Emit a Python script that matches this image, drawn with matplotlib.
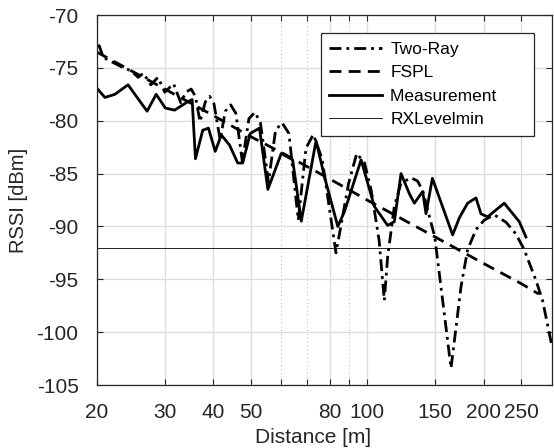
import matplotlib
matplotlib.use("Agg")
import matplotlib.pyplot as plt
import matplotlib.ticker as mticker

plt.rcParams['font.family'] = ['Liberation Sans', 'DejaVu Sans']
plt.rcParams['axes.unicode_minus'] = False

# Two-Ray model
tworay_d = [20.0, 20.3, 20.8, 21.8, 23.2, 24.6, 25.6, 26.4, 27.6, 28.8,
            30.0, 31.6, 33.0, 34.0, 35.1, 36.0, 37.0, 38.2, 39.2, 40.2,
            41.7, 43.0, 44.4, 45.8, 47.6, 49.5, 51.3, 53.0, 55.6, 58.0,
            60.3, 62.8, 66.4, 69.5, 72.6, 76.5, 83.1, 89.5, 94.0, 98.5,
            102.5, 107.4, 110.8, 113.0, 117.6, 122.4, 129.9, 135.0, 139.2, 149.6,
            156.8, 164.8, 174.9, 181.9, 191.2, 200.8, 213.2, 228.6, 242.4, 254.8,
            273.2, 284.2, 300.0]
tworay_rssi = [-73.0, -72.9, -74.0, -74.4, -74.9, -75.3, -75.9, -75.5, -76.6, -75.9,
               -77.3, -76.5, -78.3, -77.3, -77.0, -77.7, -80.1, -78.2, -77.7, -78.4,
               -81.8, -79.1, -78.5, -79.3, -83.9, -79.8, -79.2, -80.2, -85.8, -80.9,
               -80.2, -81.2, -89.4, -82.6, -81.3, -83.6, -92.5, -86.0, -83.1, -84.0,
               -86.6, -91.3, -97.0, -92.9, -88.1, -85.9, -85.4, -85.7, -86.6, -91.0,
               -97.0, -103.4, -95.7, -92.2, -90.3, -89.4, -88.9, -89.6, -90.7, -92.2,
               -95.1, -97.0, -101.2]

# free space path loss
fspl_d = [20, 30, 40, 50, 60, 80, 100, 150, 200, 250, 278]
fspl_rssi = [-73.5, -77.0, -79.5, -81.5, -83.0, -85.5, -87.5, -91.0, -93.5, -95.4, -96.4]

# measurement
meas_d = [20.0, 21.0, 22.3, 24.1, 27.0, 28.5, 30.1, 31.8, 34.4, 35.3,
          36.0, 37.6, 38.9, 40.5, 42.0, 44.1, 46.3, 47.7, 49.9, 52.7,
          55.4, 60.0, 64.2, 67.6, 73.8, 77.6, 84.0, 87.4, 96.5, 104.4,
          113.0, 117.6, 122.4, 128.6, 132.5, 139.2, 142.0, 147.5, 166.4, 173.1,
          181.9, 191.2, 196.9, 204.8, 226.2, 247.4, 257.4]
meas_rssi = [-76.9, -77.8, -77.5, -76.6, -79.1, -77.5, -78.8, -79.0, -78.2, -78.0,
             -83.6, -80.9, -80.7, -82.9, -81.35, -82.3, -84.0, -84.0, -81.2, -80.7,
             -86.5, -83.1, -83.7, -89.5, -81.9, -85.3, -90.0, -88.6, -83.7, -88.1,
             -89.9, -89.55, -85.0, -86.9, -87.8, -86.7, -88.8, -85.45, -90.8, -89.2,
             -87.8, -87.3, -88.8, -89.1, -87.8, -89.55, -91.0]

rx_level_min = -92

xticks = [20, 30, 40, 50, 80, 100, 150, 200, 250]
xminor = [60, 70, 90]
yticks = list(range(-105, -69, 5))

fig = plt.figure(figsize=(5.54, 4.48), dpi=100)
ax = fig.add_axes([0.1745, 0.1406, 0.8213, 0.8259])

ax.set_xscale('log')
ax.plot(tworay_d, tworay_rssi, color='black', lw=2.0, dashes=(4.3, 1.8, 1.0, 1.8), label='Two-Ray')
ax.plot(fspl_d, fspl_rssi, color='black', lw=2.0, dashes=(4.3, 2.6), label='FSPL')
# trailing spaces give the wide right margin of the legend box
ax.plot(meas_d, meas_rssi, color='black', lw=2.0, label='Measurement      ')
ax.axhline(rx_level_min, color='black', lw=0.6, label='RXLevelmin')

ax.set_xlim(20, 300)
ax.set_ylim(-105, -70)
ax.xaxis.set_major_locator(mticker.FixedLocator(xticks))
ax.xaxis.set_major_formatter(mticker.FixedFormatter([str(t) for t in xticks]))
ax.xaxis.set_minor_locator(mticker.FixedLocator(xminor))
ax.xaxis.set_minor_formatter(mticker.NullFormatter())
ax.set_yticks(yticks)
ax.set_yticklabels([str(t) for t in yticks])

ax.grid(True, which='major', color='#dedede', lw=1.0)
ax.grid(True, which='minor', axis='x', color='#b8b8b8', lw=0.7, linestyle=(0, (1, 3)))
ax.set_axisbelow(True)

for s in ax.spines.values():
    s.set_color('#262626')
    s.set_linewidth(0.9)
ax.tick_params(which='both', direction='in', top=True, right=True,
               colors='#262626', labelsize=15, length=4, width=0.8, pad=13)

ax.set_xlabel('Distance [m]', fontsize=15, color='#262626')
ax.set_ylabel('RSSI [dBm]', fontsize=14.5, color='#262626')
ax.xaxis.set_label_coords(0.476, -0.115)
ax.yaxis.set_label_coords(-0.15, 0.5)

leg = ax.legend(loc='upper right', bbox_to_anchor=(0.962, 0.9505), borderaxespad=0,
                fontsize=12.5, handlelength=3.0, labelspacing=0.47, handletextpad=0.5,
                fancybox=False, framealpha=1, edgecolor='#262626', borderpad=0.5)
leg.get_frame().set_linewidth(0.9)

fig.savefig('out.png', dpi=100)
